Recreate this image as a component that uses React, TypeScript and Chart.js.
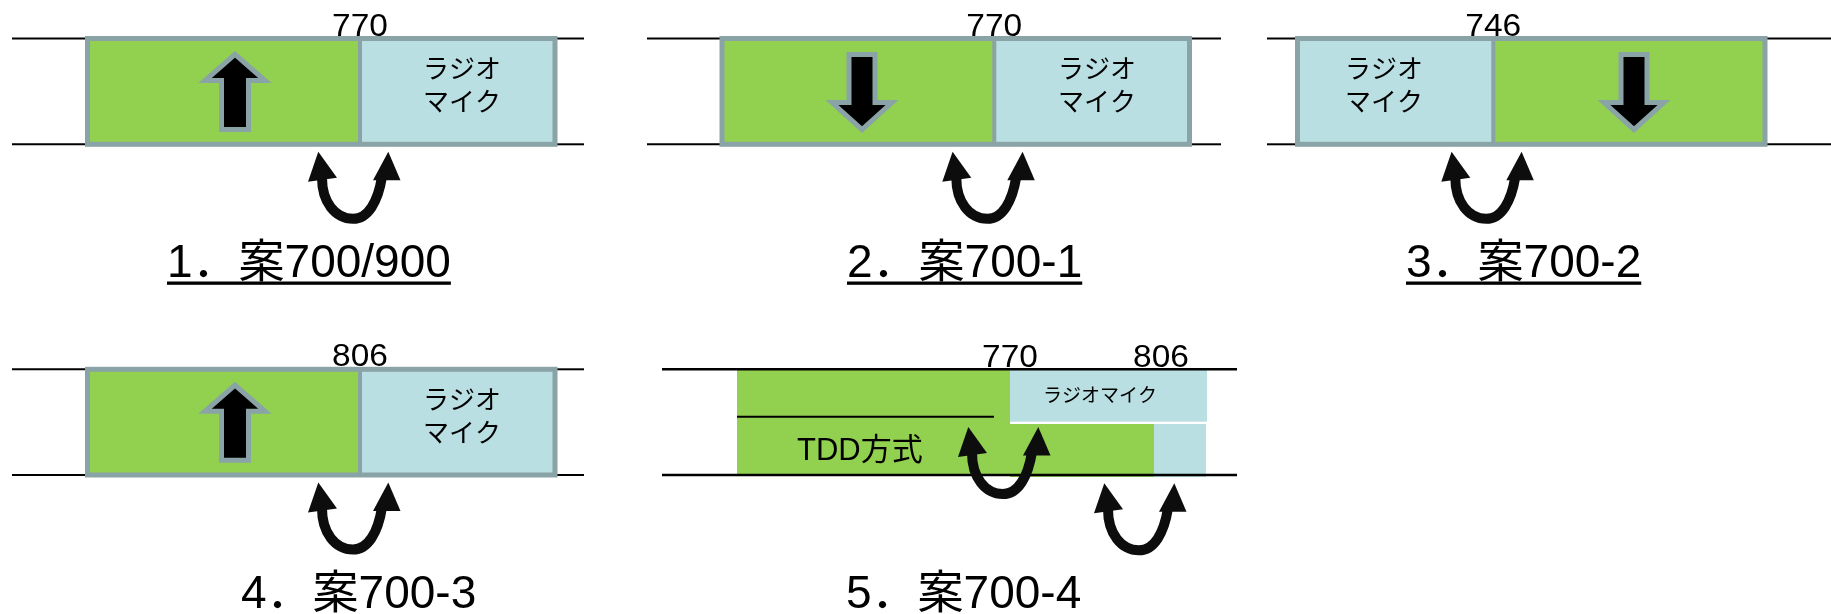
import React, { useEffect, useRef } from "react";
import { Chart, registerables } from "chart.js";

Chart.register(...registerables);

// ---- content (what the diagram says) ----
const panelTitles = ["1．案700/900", "2．案700-1", "3．案700-2", "4．案700-3", "5．案700-4"];
const boundaryLabels = ["770", "770", "746", "806"]; // panels 1-4
const arrowDirections = ["up", "down", "down", "up"]; // panels 1-4
const micSides = ["right", "right", "left", "right"]; // where the radio-mic band sits
const micLabelLines = ["ラジオ", "マイク"];
const tddBoundaryLabels = ["770", "806"]; // panel 5
const tddLabel = "TDD方式";
const micLabelOneLine = "ラジオマイク";

// ---- layout (diagram units mapped through the chart's linear scales) ----
const W = 1831;
const H = 614;
const panelLayout = [
  { line: [12, 584], top: 38.5, bottom: 144.3, box: [87.5, 555], divider: 360, arrowX: 235, micX: 462, titleX: 167, titleY: 277, underline: true },
  { line: [647, 1221], top: 38.5, bottom: 144.3, box: [722, 1189.5], divider: 994.3, arrowX: 862, micX: 1097, titleX: 847, titleY: 277, underline: true },
  { line: [1267, 1831], top: 38.5, bottom: 144.3, box: [1297.5, 1765], divider: 1493.3, arrowX: 1634, micX: 1384, titleX: 1406, titleY: 277, underline: true },
  { line: [12, 584], top: 369.3, bottom: 475, box: [87.5, 555], divider: 360, arrowX: 235, micX: 462, titleX: 241, titleY: 608, underline: false },
];
const tddLayout = {
  line: [662, 1237], top: 369.3, bottom: 475,
  greenMain: [737, 1010, 369.5, 475],
  micTop: [1010, 1207, 370, 421.7],
  greenLow: [1010, 1154, 424, 477],
  micLow: [1154, 1206, 424, 477],
  splitLine: [737, 994, 416.7],
  boundaryX: [1010, 1161],
  labelBaseline: 367,
  tddText: [797, 460],
  micText: [1100, 395],
  curves: [[1010, 427], [1146, 483.3]],
  titleX: 846, titleY: 608,
};

const GREEN = "#92D050";
const BLUE = "#B9DFE3";
const GREY = "#8AA3A6";
const BLACK = "#000000";
const CJK = "'Noto Sans CJK JP'";
const LATIN = "'Liberation Sans', Arial";

export default function App() {
  const ref = useRef<HTMLCanvasElement>(null);

  useEffect(() => {
    document.body.style.margin = "0";
    const canvas = ref.current;
    if (!canvas) return;

    const diagram = {
      id: "bandDiagram",
      afterDatasetsDraw(chart: any) {
        const ctx: CanvasRenderingContext2D = chart.ctx;
        const xs = chart.scales.x;
        const ys = chart.scales.y;
        const X = (v: number) => xs.getPixelForValue(v);
        const Y = (v: number) => ys.getPixelForValue(v);

        const rect = (x0: number, x1: number, y0: number, y1: number, fill: string) => {
          ctx.fillStyle = fill;
          ctx.fillRect(X(x0), Y(y0), X(x1) - X(x0), Y(y1) - Y(y0));
        };
        const hline = (x0: number, x1: number, y: number, w = 2, c = BLACK) => {
          ctx.strokeStyle = c;
          ctx.lineWidth = w;
          ctx.beginPath();
          ctx.moveTo(X(x0), Y(y));
          ctx.lineTo(X(x1), Y(y));
          ctx.stroke();
        };
        const vline = (x: number, y0: number, y1: number, w: number, c: string) => {
          ctx.strokeStyle = c;
          ctx.lineWidth = w;
          ctx.beginPath();
          ctx.moveTo(X(x), Y(y0));
          ctx.lineTo(X(x), Y(y1));
          ctx.stroke();
        };
        const text = (s: string, x: number, y: number, font: string, align: CanvasTextAlign, base: CanvasTextBaseline) => {
          ctx.fillStyle = BLACK;
          ctx.font = font;
          ctx.textAlign = align;
          ctx.textBaseline = base;
          ctx.fillText(s, X(x), Y(y));
        };
        // boundary numbers are slightly wider than the font's natural proportions
        const numberLabel = (s: string, x: number, y: number) => {
          ctx.save();
          ctx.translate(X(x), Y(y));
          ctx.scale(1.08, 1);
          ctx.fillStyle = BLACK;
          ctx.font = `31px ${LATIN}`;
          ctx.textAlign = "center";
          ctx.textBaseline = "alphabetic";
          ctx.fillText(s, 0, 0);
          ctx.restore();
        };

        const blockArrow = (cx: number, top: number, dir: string) => {
          ctx.beginPath();
          if (dir === "up") {
            const pts = [
              [cx, top + 3.3], [cx + 30, top + 29.5], [cx + 13.5, top + 29.5], [cx + 13.5, top + 78.5],
              [cx - 13.5, top + 78.5], [cx - 13.5, top + 29.5], [cx - 30, top + 29.5],
            ];
            pts.forEach(([px, py], i) => (i ? ctx.lineTo(X(px), Y(py)) : ctx.moveTo(X(px), Y(py))));
          } else {
            const t = top + 1;
            const pts = [
              [cx - 13, t + 2.5], [cx + 13, t + 2.5], [cx + 13, t + 50.5], [cx + 30, t + 50.5],
              [cx, t + 77.7], [cx - 30, t + 50.5], [cx - 13, t + 50.5],
            ];
            pts.forEach(([px, py], i) => (i ? ctx.lineTo(X(px), Y(py)) : ctx.moveTo(X(px), Y(py))));
          }
          ctx.closePath();
          ctx.fillStyle = BLACK;
          ctx.fill();
          ctx.lineJoin = "miter";
          ctx.strokeStyle = GREY;
          ctx.lineWidth = 5;
          ctx.stroke();
        };

        const swapArrow = (cx: number, tipY: number) => {
          const P = (dx: number, dy: number): [number, number] => [X(cx + dx), Y(tipY + dy)];
          ctx.fillStyle = "#0D0D0D";
          ctx.strokeStyle = "#0D0D0D";
          // curve
          ctx.lineWidth = 10;
          ctx.lineCap = "butt";
          ctx.beginPath();
          ctx.moveTo(...P(-38, 26));
          ctx.bezierCurveTo(...P(-38, 50), ...P(-25, 67), ...P(-7, 67));
          ctx.bezierCurveTo(...P(8, 67), ...P(18, 50), ...P(22, 25));
          ctx.stroke();
          // heads
          ctx.beginPath();
          ctx.moveTo(...P(-41.7, 0));
          ctx.lineTo(...P(-23, 26));
          ctx.lineTo(...P(-52, 30));
          ctx.closePath();
          ctx.fill();
          ctx.beginPath();
          ctx.moveTo(...P(28.3, 0));
          ctx.lineTo(...P(40.5, 28.5));
          ctx.lineTo(...P(13, 28.5));
          ctx.closePath();
          ctx.fill();
        };

        const title = (s: string, x: number, y: number, underline: boolean) => {
          const font = `46px ${LATIN}, ${CJK}, sans-serif`;
          text(s, x, y, font, "left", "alphabetic");
          if (underline) {
            const w = ctx.measureText(s).width;
            ctx.fillStyle = BLACK;
            ctx.fillRect(X(x), Y(y + 4.5), w, 3.3);
          }
        };

        // panels 1-4
        panelLayout.forEach((p, i) => {
          hline(p.line[0], p.box[0], p.top);
          hline(p.line[0], p.box[0], p.bottom);
          hline(p.box[1], p.line[1], p.top);
          hline(p.box[1], p.line[1], p.bottom);
          const micRight = micSides[i] === "right";
          rect(p.box[0], p.divider, p.top, p.bottom, micRight ? GREEN : BLUE);
          rect(p.divider, p.box[1], p.top, p.bottom, micRight ? BLUE : GREEN);
          ctx.lineJoin = "miter";
          ctx.strokeStyle = GREY;
          ctx.lineWidth = 5;
          ctx.strokeRect(X(p.box[0]), Y(p.top), X(p.box[1]) - X(p.box[0]), Y(p.bottom) - Y(p.top));
          vline(p.divider, p.top, p.bottom, 4, GREY);
          blockArrow(p.arrowX, p.top + 12.5, arrowDirections[i]);
          micLabelLines.forEach((s, k) =>
            text(s, p.micX, p.top + 29.5 + k * 33, `26px ${CJK}`, "center", "middle")
          );
          numberLabel(boundaryLabels[i], p.divider, p.top - 3);
          swapArrow(p.divider, p.bottom + 7.5);
          title(panelTitles[i], p.titleX, p.titleY, p.underline);
        });

        // panel 5 (TDD)
        const t = tddLayout;
        rect(t.greenMain[0], t.greenMain[1], t.greenMain[2], t.greenMain[3], GREEN);
        rect(t.greenLow[0], t.greenLow[1], t.greenLow[2], t.greenLow[3], GREEN);
        rect(t.micTop[0], t.micTop[1], t.micTop[2], t.micTop[3], BLUE);
        rect(t.micLow[0], t.micLow[1], t.micLow[2], t.micLow[3], BLUE);
        hline(t.line[0], t.line[1], t.top, 2.5);
        hline(t.line[0], t.line[1], t.bottom, 2.5);
        hline(t.splitLine[0], t.splitLine[1], t.splitLine[2], 2);
        tddBoundaryLabels.forEach((s, k) => numberLabel(s, t.boundaryX[k], t.labelBaseline));
        text(micLabelOneLine, t.micText[0], t.micText[1], `19px ${CJK}`, "center", "middle");
        text(tddLabel, t.tddText[0], t.tddText[1], `31px ${LATIN}, ${CJK}`, "left", "alphabetic");
        t.curves.forEach(([cx, ty]) => swapArrow(cx, ty));
        title(panelTitles[4], t.titleX, t.titleY, false);
      },
    };

    const chart = new Chart(canvas, {
      type: "scatter",
      data: { datasets: [] },
      options: {
        responsive: false,
        animation: false,
        layout: { padding: 0 },
        plugins: { legend: { display: false }, tooltip: { enabled: false } },
        scales: {
          x: { type: "linear", min: 0, max: W, display: false },
          y: { type: "linear", min: 0, max: H, reverse: true, display: false },
        },
      },
      plugins: [diagram],
    });
    return () => chart.destroy();
  }, []);

  return <canvas ref={ref} width={W} height={H} style={{ display: "block" }} />;
}
